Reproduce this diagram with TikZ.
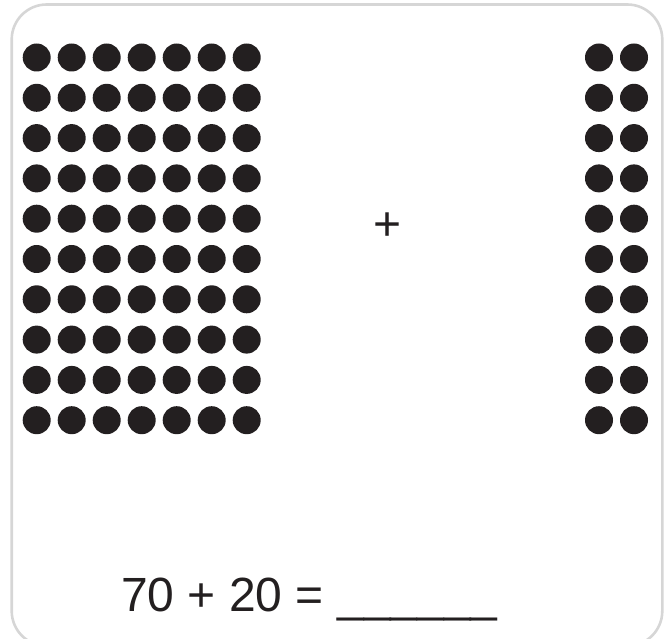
\documentclass[tikz,border=0pt]{standalone}
\usepackage{fontspec}
\setmainfont{Liberation Sans}
\definecolor{dotc}{RGB}{35,31,32}
\definecolor{framec}{RGB}{214,214,214}
\begin{document}
\begin{tikzpicture}[x=1pt,y=-1pt,
  dot/.style={fill=dotc},
  frame/.style={draw=framec,line width=2.6pt,rounded corners=35pt},
  bigtext/.style={font=\fontsize{48}{54}\selectfont,text=dotc,inner sep=0pt}]
\useasboundingbox (0,0) rectangle (670,639);
\begin{scope}
\clip (0,0) rectangle (670,639);
\draw[frame] (11.7,4.5) rectangle (662.3,646);
\end{scope}
% left group: 7 x 10
\foreach \i in {0,...,6}{
  \foreach \j in {0,...,9}{
    \fill[dot] (36.7+35*\i,57.5+40.3*\j) circle (14);
  }
}
% right group: 2 x 10
\foreach \i in {0,1}{
  \foreach \j in {0,...,9}{
    \fill[dot] (599+35*\i,57.5+40.3*\j) circle (14);
  }
}
\node[bigtext,anchor=base] (plus) at (388,241) {+};
\node[bigtext,anchor=base west] (eq) at (121,611) {70 + 20 = \_\_\_\_\_\_};
\end{tikzpicture}
\end{document}
